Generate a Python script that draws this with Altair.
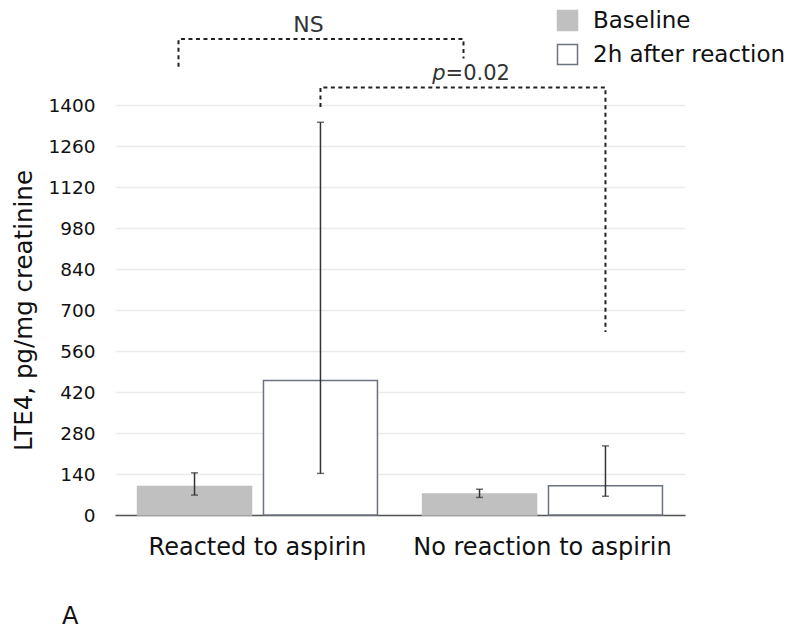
import altair as alt
import pandas as pd

groups = ["Reacted to aspirin", "No reaction to aspirin"]
series = ["Baseline", "2h after reaction"]

# bar values (group-major order)
bar_group = ["Reacted to aspirin", "Reacted to aspirin", "No reaction to aspirin", "No reaction to aspirin"]
bar_series = ["Baseline", "2h after reaction", "Baseline", "2h after reaction"]
bar_value = [97, 459, 72, 100]
err_low = [68, 142, 60, 64]
err_high = [144, 1341, 88, 236]

y_ticks = [0, 140, 280, 420, 560, 700, 840, 980, 1120, 1260, 1400]

# significance brackets (path points)
ns_group = ["Reacted to aspirin", "Reacted to aspirin", "No reaction to aspirin", "No reaction to aspirin"]
ns_y = [1531, 1625, 1625, 1559]
p_group = ["Reacted to aspirin", "Reacted to aspirin", "No reaction to aspirin", "No reaction to aspirin"]
p_series = ["2h after reaction", "2h after reaction", "2h after reaction", "2h after reaction"]
p_y = [1393, 1460, 1460, 625]
ns_label_y = 1649
p_label_y = 1485

FONT = "DejaVu Sans"

bars = pd.DataFrame({"group": bar_group, "series": bar_series, "value": bar_value,
                     "lo": err_low, "hi": err_high})
ns_df = pd.DataFrame({"group": ns_group, "y": ns_y, "order": [0, 1, 2, 3]})
p_df = pd.DataFrame({"group": p_group, "series": p_series, "y": p_y, "order": [0, 1, 2, 3]})

x_enc = alt.X("group:N", sort=groups, scale=alt.Scale(paddingInner=0, paddingOuter=0),
              axis=alt.Axis(title=None, labelFontSize=24, labelFont=FONT, labelColor="#111",
                            ticks=False, labelPadding=20, domainColor="#555", domainWidth=1.5,
                            labelAngle=0, grid=False, labelLimit=0))
xo_enc = alt.XOffset("series:N", sort=series, scale=alt.Scale(paddingInner=0.095, paddingOuter=0.179))
y_scale = alt.Scale(domain=[0, 1400], nice=False, zero=True)

legend = alt.Legend(title=None, orient="none", legendX=441, legendY=-96,
                    symbolType="square", symbolSize=400, symbolStrokeWidth=1.5,
                    labelFontSize=23, labelFont=FONT, labelColor="#111", labelLimit=0,
                    labelOffset=14, rowPadding=7, padding=0)

base = alt.Chart(bars)

bar_layer = base.mark_bar(strokeWidth=1.5).encode(
    x=x_enc,
    xOffset=xo_enc,
    y=alt.Y("value:Q", scale=y_scale,
            axis=alt.Axis(values=y_ticks, format="d", title="LTE4, pg/mg creatinine", titleFontSize=24.5,
                          titleFont=FONT, titleFontWeight="normal", titleColor="#111",
                          titlePadding=11, labelFontSize=18.5, labelFont=FONT, labelColor="#111",
                          ticks=False, domain=False, labelPadding=20,
                          gridColor="#ebebeb", gridWidth=1.5)),
    fill=alt.Fill("series:N", sort=series,
                  scale=alt.Scale(domain=series, range=["#c0c0c0", "#ffffff"]),
                  legend=legend),
    stroke=alt.Stroke("series:N", sort=series,
                      scale=alt.Scale(domain=series, range=["#c0c0c0", "#6b7380"]),
                      legend=legend),
)

err_layer = base.mark_rule(color="#333", strokeWidth=1.5).encode(
    x=alt.X("group:N", sort=groups), xOffset=alt.XOffset("series:N", sort=series),
    y=alt.Y("lo:Q", scale=y_scale), y2="hi:Q")
cap_lo = base.mark_tick(color="#333", thickness=1.5, size=7, orient="horizontal").encode(
    x=alt.X("group:N", sort=groups), xOffset=alt.XOffset("series:N", sort=series),
    y=alt.Y("lo:Q", scale=y_scale))
cap_hi = base.mark_tick(color="#333", thickness=1.5, size=7, orient="horizontal").encode(
    x=alt.X("group:N", sort=groups), xOffset=alt.XOffset("series:N", sort=series),
    y=alt.Y("hi:Q", scale=y_scale))

# NS bracket: drawn from the group centres, shifted left to sit over the baseline bars
ns_line = alt.Chart(ns_df).mark_line(color="#222", strokeWidth=2, strokeDash=[4, 3.5],
                                     xOffset=-79).encode(
    x=alt.X("group:N", sort=groups),
    y=alt.Y("y:Q", scale=y_scale), order="order:Q")
p_line = alt.Chart(p_df).mark_line(color="#222", strokeWidth=2, strokeDash=[4, 3.5]).encode(
    x=alt.X("group:N", sort=groups), xOffset=alt.XOffset("series:N", sort=series),
    y=alt.Y("y:Q", scale=y_scale), order="order:Q")

ns_text = alt.Chart(pd.DataFrame({"group": [groups[0]], "series": [series[1]], "y": [ns_label_y],
                                  "t": ["NS"]})).mark_text(
    font=FONT, fontSize=22, color="#333", baseline="alphabetic", dx=-12).encode(
    x=alt.X("group:N", sort=groups), xOffset=alt.XOffset("series:N", sort=series),
    y=alt.Y("y:Q", scale=y_scale), text="t:N")
p_text1 = alt.Chart(pd.DataFrame({"group": [groups[1]], "series": [series[0]], "y": [p_label_y],
                                  "t": ["p"]})).mark_text(
    font=FONT, fontSize=21, fontStyle="italic", color="#333", baseline="alphabetic",
    align="right", dx=-34).encode(
    x=alt.X("group:N", sort=groups), xOffset=alt.XOffset("series:N", sort=series),
    y=alt.Y("y:Q", scale=y_scale), text="t:N")
p_text2 = alt.Chart(pd.DataFrame({"group": [groups[1]], "series": [series[0]], "y": [p_label_y],
                                  "t": ["=0.02"]})).mark_text(
    font=FONT, fontSize=21, color="#333", baseline="alphabetic", align="left", dx=-34).encode(
    x=alt.X("group:N", sort=groups), xOffset=alt.XOffset("series:N", sort=series),
    y=alt.Y("y:Q", scale=y_scale), text="t:N")

chart = alt.layer(bar_layer, err_layer, cap_lo, cap_hi, ns_line, p_line, ns_text, p_text1, p_text2).properties(
    width=570, height=410,
    autosize=alt.AutoSizeParams(type="none"),
    padding={"left": 107, "top": 97, "right": 107, "bottom": 116},
    title=alt.TitleParams("A", orient="bottom", anchor="start", frame="group", dx=-53, offset=46,
                          font=FONT, fontSize=24, fontWeight="normal", color="#111"),
).configure_view(stroke=None)

chart.save("out.html", embed_options={"renderer": "svg", "actions": False})
